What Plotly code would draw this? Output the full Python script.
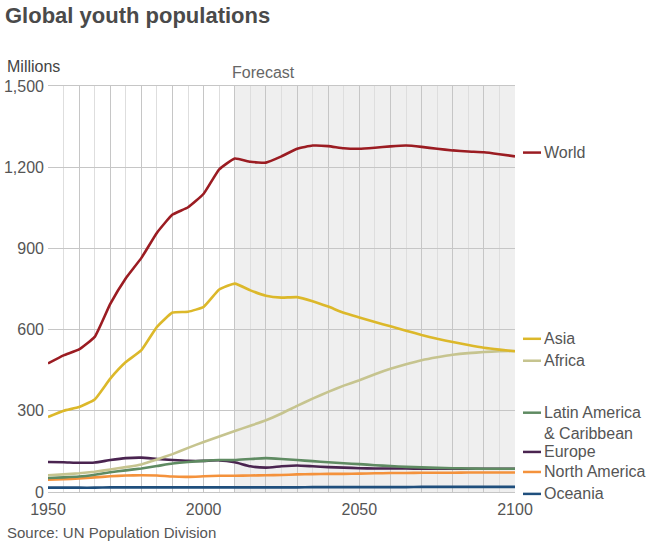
import plotly.graph_objects as go

years = list(range(1950, 2101, 5))

world = [475, 505, 527, 573, 695, 790, 865, 958, 1025, 1052, 1102, 1192, 1232, 1220, 1217,
         1240, 1268, 1280, 1278, 1270, 1268, 1272, 1277, 1280, 1275, 1268, 1262, 1258, 1255, 1248, 1240]
asia = [277, 300, 314, 342, 419, 480, 524, 610, 663, 666, 684, 748, 770, 745, 725,
        718, 720, 705, 685, 662, 645, 628, 612, 596, 580, 566, 554, 543, 533, 526, 520]
africa = [62, 65, 69, 75, 83, 92, 102, 120, 140, 163, 185, 205, 225, 245, 265,
          290, 318, 345, 370, 393, 413, 435, 455, 472, 487, 498, 507, 513, 517, 520, 521]
latin_america = [52, 54, 57, 64, 73, 80, 87, 96, 105, 111, 115, 118, 118, 122, 125,
                 122, 118, 114, 110, 106, 103, 99, 96, 93, 91, 89, 88, 87, 86, 86, 86]
europe = [111, 110, 108, 109, 118, 125, 127, 122, 118, 115, 115, 117, 110, 95, 90,
          95, 98, 95, 92, 90, 88, 87, 87, 87, 86, 86, 86, 86, 86, 86, 86]
north_america = [45, 47, 50, 54, 58, 61, 62, 61, 57, 56, 58, 60, 60, 61, 62,
                 63, 65, 66, 67, 67, 68, 69, 70, 70, 71, 71, 71, 72, 72, 72, 72]
oceania = [16, 16, 16, 16, 17, 17, 17, 17, 17, 17, 17, 17, 17, 17, 17,
           17, 17, 18, 18, 18, 18, 18, 18, 18, 19, 19, 19, 19, 19, 19, 19]

series_names = ["World", "Asia", "Africa", "Latin America<br>& Caribbean", "Europe",
                "North America", "Oceania"]
series_values = [world, asia, africa, latin_america, europe, north_america, oceania]
series_colors = ["#9b1c22", "#dcb82a", "#c6c48f", "#5f8b62", "#4a2450", "#f4923c", "#1f4f7d"]
label_y = [1254, 566, 485, 293, 148, 74, -7]

x_tick_vals = list(range(1950, 2101, 10))
x_tick_text = [str(v) if v % 50 == 0 else "" for v in x_tick_vals]
x_minor_vals = list(range(1955, 2100, 10))
y_tick_vals = [0, 300, 600, 900, 1200, 1500]
y_tick_text = ["0", "300", "600", "900", "1,200", "1,500"]
Y_MAX = 1500

FONT = "Liberation Sans, Arial, sans-serif"
TXT = "#555555"

fig = go.Figure()
for name, vals, col in reversed(list(zip(series_names, series_values, series_colors))):
    fig.add_trace(go.Scatter(x=years, y=vals, mode="lines", name=name,
                             line=dict(color=col, width=2.6, shape="spline", smoothing=0.4),
                             hoverinfo="skip", showlegend=False))

shapes = [dict(type="rect", xref="x", yref="paper", x0=2010, x1=2100, y0=0, y1=1,
               fillcolor="#efefef", line=dict(width=0), layer="below")]
annotations = []
for name, ly, col in zip(series_names, label_y, series_colors):
    py = ly / Y_MAX
    shapes.append(dict(type="line", xref="paper", yref="paper", xsizemode="pixel", xanchor=1,
                       x0=8, x1=26, y0=py, y1=py, line=dict(color=col, width=2.5)))
    multi = "<br>" in name
    annotations.append(dict(x=1, y=py, xref="paper", yref="paper", text=name, showarrow=False,
                            xanchor="left", yanchor="top" if multi else "middle",
                            yshift=11 if multi else 0, xshift=27, align="left",
                            font=dict(family=FONT, size=16, color=TXT)))

annotations += [
    dict(x=-0.092, y=1.047, xref="paper", yref="paper", text="Millions", showarrow=False,
         xanchor="left", yanchor="middle", font=dict(family=FONT, size=16, color="#444")),
    dict(x=2010, y=1.034, xref="x", yref="paper", text="Forecast", showarrow=False,
         xanchor="left", yanchor="middle", xshift=-5, font=dict(family=FONT, size=16, color="#666")),
    dict(x=-0.092, y=-0.099, xref="paper", yref="paper", text="Source: UN Population Division",
         showarrow=False, xanchor="left", yanchor="middle",
         font=dict(family=FONT, size=15, color=TXT)),
]

fig.update_layout(
    width=660, height=546,
    margin=dict(l=48, r=145, t=86, b=54),
    paper_bgcolor="white", plot_bgcolor="rgba(0,0,0,0)",
    title=dict(text="<b>Global youth populations</b>", xref="container", yref="container",
               x=5 / 660, y=1 - 15 / 546, xanchor="left", yanchor="middle",
               font=dict(family=FONT, size=22, color="#4a4a4a")),
    shapes=shapes, annotations=annotations,
    xaxis=dict(range=[1950, 2100], tickvals=x_tick_vals, ticktext=x_tick_text, automargin=False,
               showgrid=True, gridcolor="#c6c6c6", gridwidth=1, zeroline=False,
               showline=True, mirror=True, linecolor="#c6c6c6", linewidth=1,
               minor=dict(tickvals=x_minor_vals, showgrid=True, gridcolor="#dedede", gridwidth=1),
               ticks="", ticklabelstandoff=3,
               tickfont=dict(family=FONT, size=16, color=TXT), fixedrange=True),
    yaxis=dict(range=[0, Y_MAX], tickvals=y_tick_vals, ticktext=y_tick_text, automargin=False,
               showgrid=True, gridcolor="#c6c6c6", gridwidth=1,
               zeroline=True, zerolinecolor="#a6a6a6", zerolinewidth=3,
               showline=False, ticks="", ticklabelstandoff=3,
               tickfont=dict(family=FONT, size=16, color=TXT), fixedrange=True),
)

fig.write_html("out.html", config={"displayModeBar": False},
               post_script="document.body.style.margin='0';")
